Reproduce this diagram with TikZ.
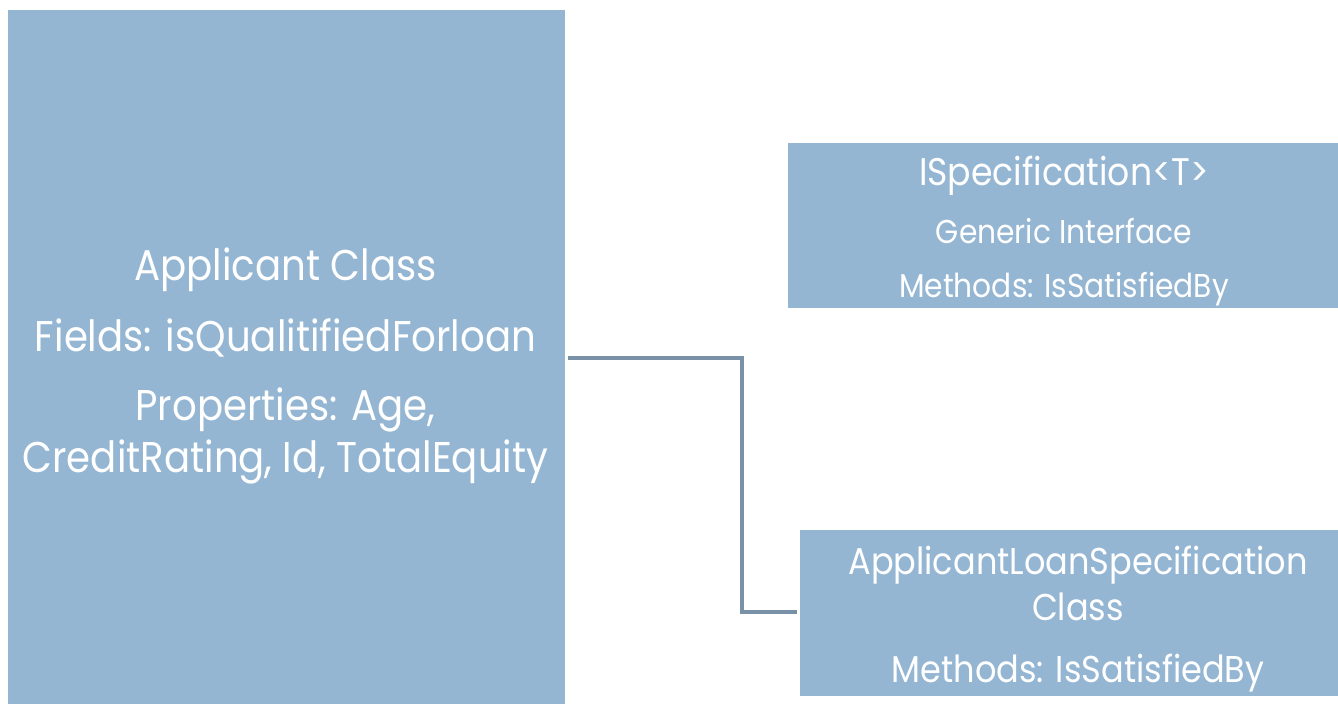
\documentclass[tikz,border=0pt]{standalone}
\usepackage{fontspec}
\setmainfont[FakeStretch=0.9]{Poppins}
\definecolor{boxblue}{HTML}{94B6D3}
\definecolor{linkgray}{HTML}{7891A6}
\begin{document}
\begin{tikzpicture}[x=1pt,y=-1pt,
  box/.style={fill=boxblue,draw=none,inner sep=0pt},
  txt/.style={text=white,inner sep=0pt,anchor=base},
  big/.style={txt,font=\fontsize{43}{50}\selectfont},
  lower/.style={txt,font=\fontsize{37.3}{44}\selectfont},
  mid/.style={txt,font=\fontsize{38.5}{44}\selectfont},
  small/.style={txt,font=\fontsize{33}{38}\selectfont},
  link/.style={draw=linkgray,line width=4pt}]
\path[use as bounding box] (0,0) rectangle (1338,704);
% boxes
\node[box,minimum width=557pt,minimum height=694pt] (appl) at (286.5,357) {};
\node[box,minimum width=550pt,minimum height=165pt] (ispec) at (1063,225.5) {};
\node[box,minimum width=538pt,minimum height=166pt] (alspec) at (1069,613) {};
% texts
\node[big] (a1) at (285.5,280) {Applicant Class};
\node[big] (a2) at (285.5,351) {Fields: isQualitifiedForloan};
\node[big] (a3) at (285.5,420) {Properties: Age,};
\node[big] (a4) at (285.5,472) {CreditRating, Id, TotalEquity};
\node[mid] (i1) at (1064,185) {ISpecification<T>};
\node[small] (i2) at (1064,243) {Generic Interface};
\node[small] (i3) at (1064,297) {Methods: IsSatisfiedBy};
\node[lower] (l1) at (1078,574) {ApplicantLoanSpecification};
\node[lower] (l2) at (1078,620) {Class};
\node[lower] (l3) at (1078,682) {Methods: IsSatisfiedBy};
% connector
\coordinate (s) at (568,358);
\coordinate (e) at (797,612);
\draw[link] (s) -- (742,358) -- (742,612) -- (e);
\end{tikzpicture}
\end{document}
